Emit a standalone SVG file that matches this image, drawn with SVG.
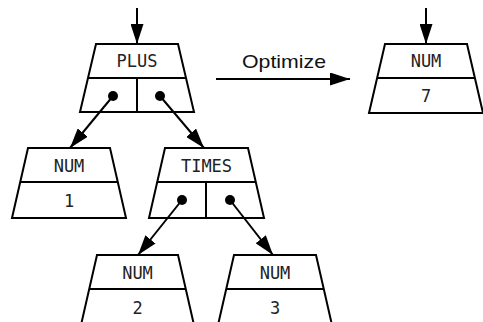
<svg xmlns="http://www.w3.org/2000/svg" width="483" height="322" viewBox="0 0 483 322">
<style>
.box{fill:#fff;stroke:#000;stroke-width:2;stroke-linejoin:miter}
.ln{stroke:#000;stroke-width:2;fill:none}
.t{font-family:"DejaVu Sans Mono","Liberation Mono",monospace;font-size:17px;text-anchor:middle;fill:#222}
.lbl{font-family:"Liberation Sans",Arial,sans-serif;font-size:19px;fill:#111;text-anchor:middle}
.dot{fill:#000}
</style>
<defs>
<marker id="ah" markerUnits="userSpaceOnUse" markerWidth="20" markerHeight="13" refX="20" refY="6.5" orient="auto" viewBox="0 0 20 13">
<path d="M0,0 L20,6.5 L0,13 z" fill="#000"/>
</marker>
</defs>
<rect width="483" height="322" fill="#fff"/>
<g id="plus">
<path class="box" d="M96,44 H178 L194,112 H80 Z"/>
<line class="ln" x1="88" y1="78" x2="186" y2="78"/>
<line class="ln" x1="137" y1="78" x2="137" y2="112"/>
<text class="t" x="137" y="67">PLUS</text>
<circle class="dot" cx="113" cy="96" r="5"/>
<circle class="dot" cx="160" cy="96" r="5"/>
</g>
<g id="num7">
<path class="box" d="M385,44 H467 L483,113 H369 Z"/>
<line class="ln" x1="377" y1="78" x2="475" y2="78"/>
<text class="t" x="426" y="67">NUM</text>
<text class="t" x="426" y="102">7</text>
</g>
<g id="num1">
<path class="box" d="M28,148 H110 L126,218 H12 Z"/>
<line class="ln" x1="20" y1="182" x2="118" y2="182"/>
<text class="t" x="69" y="172">NUM</text>
<text class="t" x="69" y="207">1</text>
</g>
<g id="times">
<path class="box" d="M165,148 H248 L264,218 H149 Z"/>
<line class="ln" x1="157" y1="182" x2="256" y2="182"/>
<line class="ln" x1="206" y1="182" x2="206" y2="218"/>
<text class="t" x="206.5" y="172">TIMES</text>
<circle class="dot" cx="182" cy="200" r="5"/>
<circle class="dot" cx="230" cy="200" r="5"/>
</g>
<g id="num2">
<path class="box" d="M97,255 H178 L194,325 H81 Z"/>
<line class="ln" x1="89" y1="289" x2="186" y2="289"/>
<text class="t" x="137.5" y="279">NUM</text>
<text class="t" x="137.5" y="314">2</text>
</g>
<g id="num3">
<path class="box" d="M234,255 H316 L332,325 H218 Z"/>
<line class="ln" x1="226" y1="289" x2="324" y2="289"/>
<text class="t" x="275" y="279">NUM</text>
<text class="t" x="275" y="314">3</text>
</g>
<g id="connectors">
<line class="ln" x1="137" y1="8" x2="137" y2="44" marker-end="url(#ah)"/>
<line class="ln" x1="426" y1="8" x2="426" y2="44" marker-end="url(#ah)"/>
<line class="ln" x1="216" y1="79" x2="350" y2="79" marker-end="url(#ah)"/>
<line class="ln" x1="113" y1="96" x2="70" y2="148" marker-end="url(#ah)"/>
<line class="ln" x1="160" y1="96" x2="204" y2="148" marker-end="url(#ah)"/>
<line class="ln" x1="182" y1="200" x2="138" y2="255" marker-end="url(#ah)"/>
<line class="ln" x1="230" y1="200" x2="273" y2="255" marker-end="url(#ah)"/>
<text class="lbl" x="284" y="68" textLength="84" lengthAdjust="spacingAndGlyphs">Optimize</text>
</g>
</svg>
